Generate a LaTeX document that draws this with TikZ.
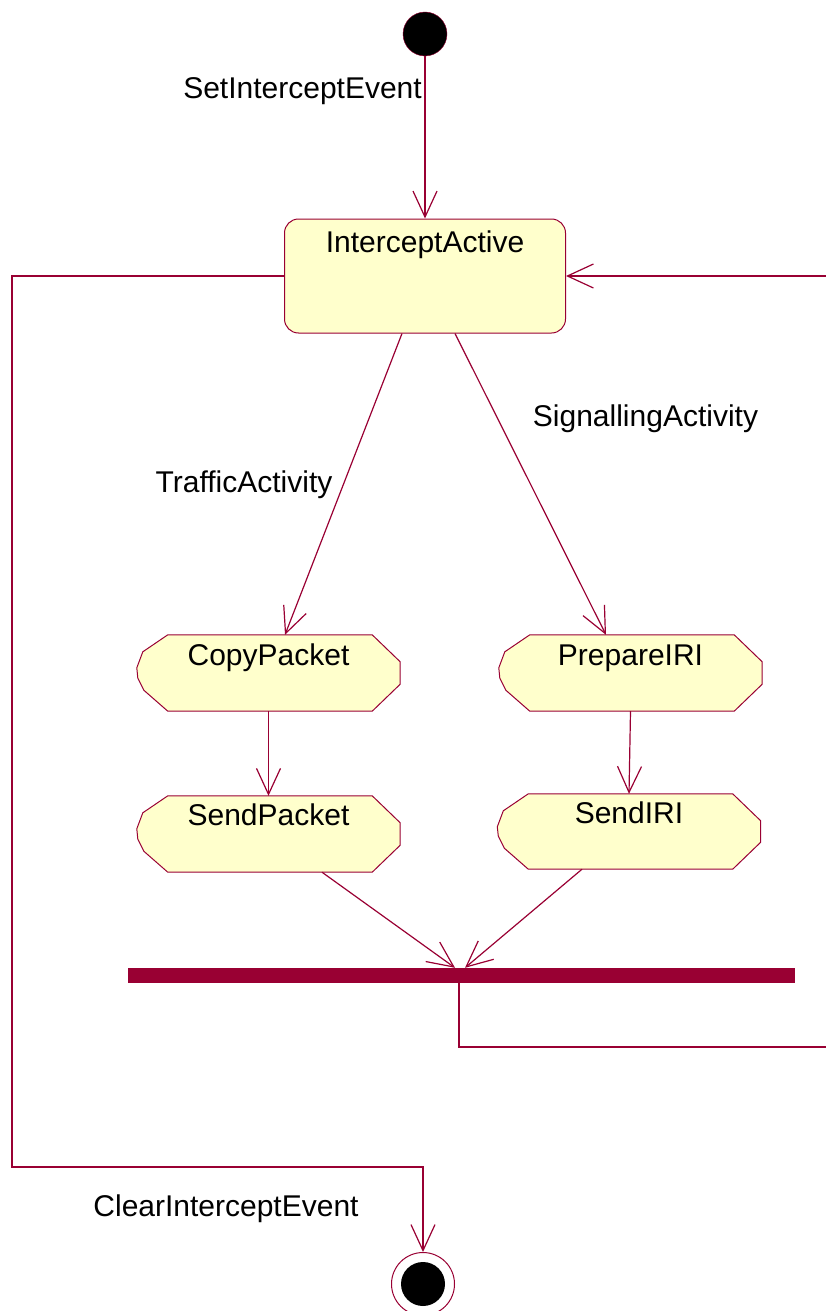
\documentclass[tikz,border=0pt]{standalone}
\usepackage{fontspec}
\setmainfont{Liberation Sans}
\usepackage{tikz}
\usetikzlibrary{arrows.meta,backgrounds}
\definecolor{umlred}{RGB}{153,0,51}
\definecolor{umlyellow}{RGB}{255,255,204}

\begin{document}
\begin{tikzpicture}[x=1pt, y=-1pt,
  every node/.style = {font=\fontsize{30}{36}\selectfont, inner sep=0pt},
  flow/.style = {draw=umlred, line width=1.2pt,
    -{Straight Barb[length=26pt,width=24pt]}},
  line/.style = {draw=umlred, line width=1.2pt},
  state/.style = {draw=umlred, line width=1pt, fill=umlyellow,
    rounded corners=14pt, minimum width=281pt,
    text height=33pt, text depth=81pt},
  act/.style = {minimum width=263pt},
  actshape/.style = {draw=umlred, line width=1pt, fill=umlyellow},
  bar/.style = {fill=umlred, minimum width=667pt, minimum height=15pt}]
  \useasboundingbox (0,0) rectangle (826,1311);

  % initial and final states
  \node[circle, draw=umlred, fill=black, minimum size=44pt] (start) at (425,34) {};
  \node[circle, draw=umlred, line width=1pt, fill=white, minimum size=63pt,
    path picture={\fill[black] (path picture bounding box.center) circle (22pt);}]
    (end) at (423,1284) {};

  % states
  \node[state] (active) at (425,276) {InterceptActive};
  \node[act, text height=30pt, text depth=46pt] (copy) at (268.5,673) {CopyPacket};
  \node[act, text height=29pt, text depth=47pt] (sendpkt) at (268.5,834) {SendPacket};
  \node[act, text height=30pt, text depth=46pt] (prep) at (630.5,673) {PrepareIRI};
  \node[act, text height=29pt, text depth=46pt] (sendiri) at (629,831.5) {SendIRI};
  \node[bar] (join) at (461.5,975.5) {};

  % activity outlines
  \begin{scope}[on background layer]
    \foreach \n in {copy,sendpkt,prep,sendiri}
      \filldraw[actshape] ([xshift=31pt]\n.north west)
        -- ([xshift=-28pt]\n.north east) -- ([yshift=-27pt]\n.north east)
        -- ([yshift=27pt]\n.south east) -- ([xshift=-28pt]\n.south east)
        -- ([xshift=31pt]\n.south west) -- ([xshift=7pt,yshift=21pt]\n.south west)
        -- ([xshift=1pt,yshift=33pt]\n.south west) -- ([yshift=-33pt]\n.north west)
        -- ([xshift=6pt,yshift=-17pt]\n.north west) -- cycle;
  \end{scope}

  % labels
  \node[anchor=base] (setlbl) at (302.5,99) {SetInterceptEvent};
  \node[anchor=base] (trafficlbl) at (244,492) {TrafficActivity};
  \node[anchor=base] (signallbl) at (645.5,426) {SignallingActivity};
  \node[anchor=base] (clearlbl) at (226,1216) {ClearInterceptEvent};

  % loop corners
  \coordinate (lloop) at (12,1167);
  \coordinate (rloop) at (828,1047);

  % transitions
  \draw[flow] (start) -- (active);
  \draw[flow] ([xshift=-23pt]active.south) -- ([xshift=16.5pt]copy.north);
  \draw[flow] ([xshift=30pt]active.south) -- ([xshift=-24.5pt]prep.north);
  \draw[flow] (copy) -- (sendpkt);
  \draw[flow] (prep.south) -- (sendiri.north);
  \draw[flow] ([xshift=53.5pt]sendpkt.south) -- ([xshift=-6.5pt]join.north);
  \draw[flow] ([xshift=-47pt]sendiri.south) -- ([xshift=3.5pt]join.north);
  \draw[flow] ([xshift=-2.5pt]join.south) |- (rloop) |- (active.east);
  \draw[flow] (active.west) -| (lloop) -| (end);
\end{tikzpicture}
\end{document}
